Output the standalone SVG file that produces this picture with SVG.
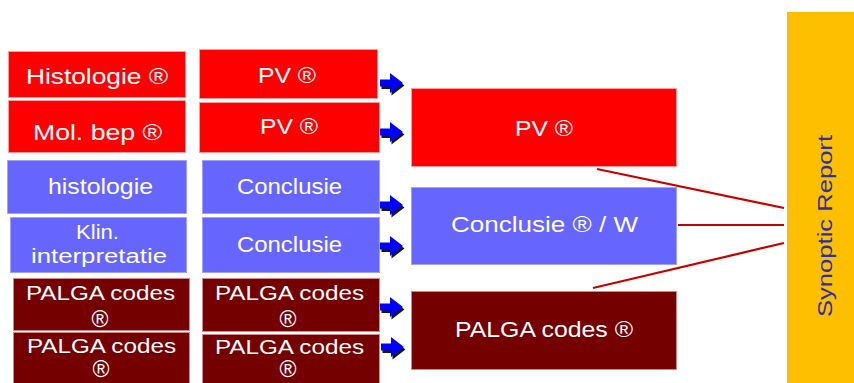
<svg xmlns="http://www.w3.org/2000/svg" width="854" height="383" viewBox="0 0 854 383">
  <defs>
    <g id="arrow">
      <path d="M1.5,-1 h10 v-6.5 l13,10 l-13,10 v-6.5 h-10 z" fill="#1a1a1a"/>
      <path d="M0,-3.5 h10 v-6.5 l13,10 l-13,10 v-6.5 h-10 z" fill="#0000ff"/>
    </g>
  </defs>
  <style>
    .red { fill: #ff0000; stroke: #ff9a9a; stroke-width: 1; }
    .blue { fill: #6666ff; stroke: #a0a0ff; stroke-width: 1; }
    .dark { fill: #750000; stroke: #d08a8a; stroke-width: 1; }
    .syn { fill: #fdbf00; }
    text { font-family: "Liberation Sans", Arial, sans-serif; fill: #ffffff; }
    .t22 { font-size: 22px; }
    .t20 { font-size: 20px; }
    .reg { font-size: 23px; }
    .syntxt { font-size: 21px; fill: #2e2ea6; }
    .conn { stroke: #c80000; stroke-width: 2.2; fill: none; }
  </style>
  <rect width="854" height="383" fill="#ffffff"/>

  <g id="connectors">
    <line class="conn" x1="597" y1="169" x2="784" y2="208"/>
    <line class="conn" x1="678" y1="225" x2="784" y2="225"/>
    <line class="conn" x1="593" y1="288" x2="784" y2="243"/>
    <use href="#arrow" x="380" y="83"/>
    <use href="#arrow" x="380" y="132"/>
    <use href="#arrow" x="380" y="205"/>
    <use href="#arrow" x="380" y="246"/>
    <use href="#arrow" x="380" y="307"/>
    <use href="#arrow" x="381" y="347"/>
  </g>

  <g id="histologie-r">
    <rect class="red" x="8.5" y="51.5" width="177" height="46"/>
    <text class="t22" x="26" y="84" textLength="142" lengthAdjust="spacingAndGlyphs">Histologie ®</text>
  </g>
  <g id="molbep">
    <rect class="red" x="8.5" y="100.5" width="177" height="52"/>
    <text class="t22" x="33" y="140" textLength="129" lengthAdjust="spacingAndGlyphs">Mol. bep ®</text>
  </g>
  <g id="histologie-b">
    <rect class="blue" x="7.5" y="160.5" width="179" height="53"/>
    <text class="t22" x="48" y="194" textLength="105" lengthAdjust="spacingAndGlyphs">histologie</text>
  </g>
  <g id="klin">
    <rect class="blue" x="10.5" y="217.5" width="176" height="55"/>
    <text class="t20" x="76" y="239" textLength="43" lengthAdjust="spacingAndGlyphs">Klin.</text>
    <text class="t20" x="31" y="263" textLength="136" lengthAdjust="spacingAndGlyphs">interpretatie</text>
  </g>
  <g id="palga-l1">
    <rect class="dark" x="13.5" y="278.5" width="176" height="52"/>
    <text class="t20" x="26" y="300" textLength="149" lengthAdjust="spacingAndGlyphs">PALGA codes</text>
    <text class="reg" x="100" y="327" text-anchor="middle">®</text>
  </g>
  <g id="palga-l2">
    <rect class="dark" x="13.5" y="332.5" width="176" height="55"/>
    <text class="t20" x="27" y="353" textLength="149" lengthAdjust="spacingAndGlyphs">PALGA codes</text>
    <text class="reg" x="101" y="377" text-anchor="middle">®</text>
  </g>

  <g id="pv1">
    <rect class="red" x="199.5" y="49.5" width="178" height="49"/>
    <text class="t22" x="258" y="83" textLength="58" lengthAdjust="spacingAndGlyphs">PV ®</text>
  </g>
  <g id="pv2">
    <rect class="red" x="199.5" y="102.5" width="180" height="50"/>
    <text class="t22" x="260" y="134" textLength="58" lengthAdjust="spacingAndGlyphs">PV ®</text>
  </g>
  <g id="conclusie1">
    <rect class="blue" x="202.5" y="160.5" width="177" height="53"/>
    <text class="t22" x="237" y="194" textLength="105" lengthAdjust="spacingAndGlyphs">Conclusie</text>
  </g>
  <g id="conclusie2">
    <rect class="blue" x="202.5" y="217.5" width="177" height="55"/>
    <text class="t22" x="237" y="252" textLength="105" lengthAdjust="spacingAndGlyphs">Conclusie</text>
  </g>
  <g id="palga-m1">
    <rect class="dark" x="202.5" y="278.5" width="177" height="53"/>
    <text class="t20" x="215" y="300" textLength="149" lengthAdjust="spacingAndGlyphs">PALGA codes</text>
    <text class="reg" x="288" y="327" text-anchor="middle">®</text>
  </g>
  <g id="palga-m2">
    <rect class="dark" x="202.5" y="334.5" width="177" height="53"/>
    <text class="t20" x="215" y="354" textLength="149" lengthAdjust="spacingAndGlyphs">PALGA codes</text>
    <text class="reg" x="288" y="377" text-anchor="middle">®</text>
  </g>

  <g id="pv-main">
    <rect class="red" x="411.5" y="88.5" width="265" height="78"/>
    <text class="t22" x="515" y="136" textLength="58" lengthAdjust="spacingAndGlyphs">PV ®</text>
  </g>
  <g id="conclusie-main">
    <rect class="blue" x="411.5" y="187.5" width="265" height="77"/>
    <text class="t22" x="451" y="232" textLength="187" lengthAdjust="spacingAndGlyphs">Conclusie ® / W</text>
  </g>
  <g id="palga-main">
    <rect class="dark" x="411.5" y="291.5" width="265" height="78"/>
    <text class="t22" x="455" y="337" textLength="178" lengthAdjust="spacingAndGlyphs">PALGA codes ®</text>
  </g>

  <g id="synoptic">
    <rect class="syn" x="787" y="12" width="67" height="371"/>
    <text class="syntxt" transform="translate(832,317) rotate(-90)" x="0" y="0" textLength="182" lengthAdjust="spacingAndGlyphs">Synoptic Report</text>
  </g>
</svg>
